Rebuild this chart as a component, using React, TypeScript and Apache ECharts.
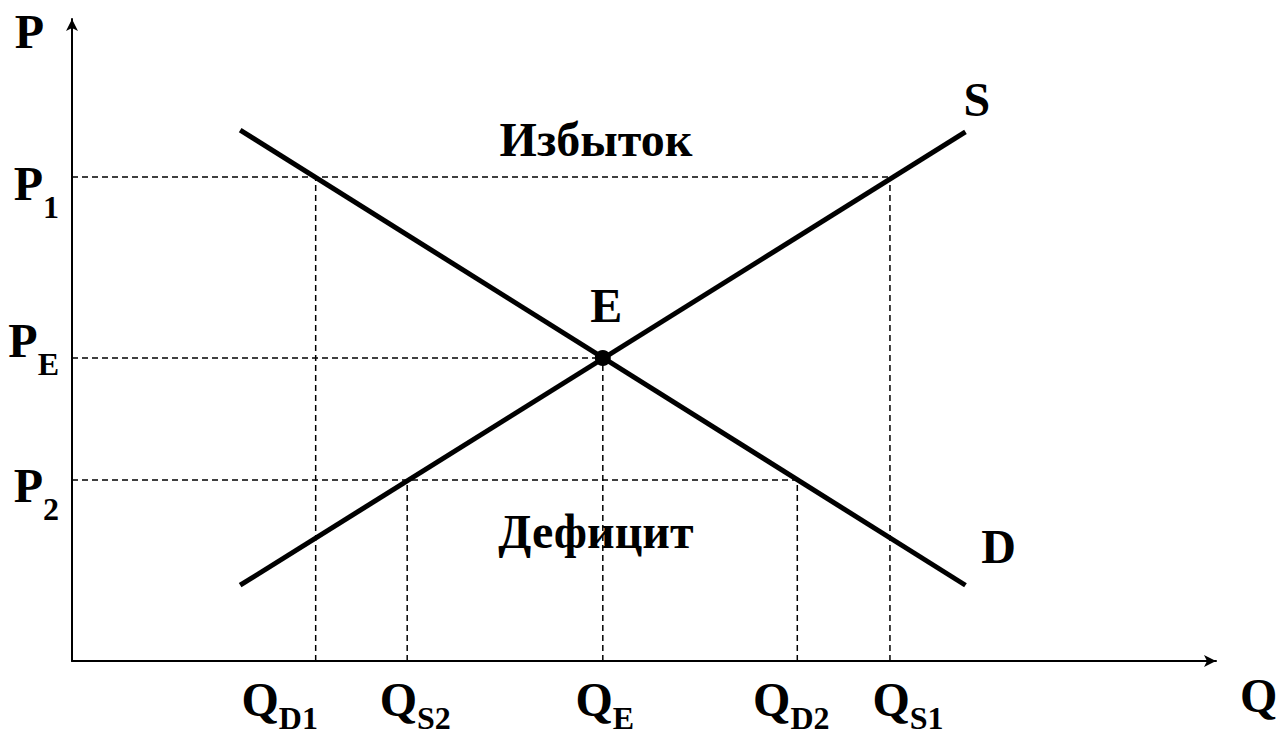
import React, { useEffect, useRef } from "react";
import * as echarts from "echarts";

const FONT = '"Liberation Serif", "Times New Roman", Times, serif';

// Curves (Q, P) in axis units 0..100
const demandLine = [
  [14.7, 82.7],
  [78.1, 11.8],
];
const supplyLine = [
  [14.7, 11.8],
  [78.1, 82.4],
];
const equilibrium = [46.4, 47.2];

// Tick marks on the axes
const qTickNames = ["D1", "S2", "E", "D2", "S1"];
const qTickValues = [21.3, 29.3, 46.4, 63.4, 71.5];
const pTickNames = ["1", "E", "2"];
const pTickValues = [75.4, 47.2, 28.2];

// Guide lines: price index -> quantity indices it drops to
const guidePrice = [0, 1, 2];
const guideQuantities = [
  [0, 4],
  [2],
  [1, 3],
];

// Annotations
const curveNames = ["S", "D", "E"];
const curveLabelAt = [
  [79.1, 87.5],
  [81.0, 17.8],
  [46.7, 55.3],
];
const areaNames = ["Избыток", "Дефицит"];
const areaLabelAt = [
  [45.8, 81.3],
  [45.8, 20.1],
];

export default function App() {
  const ref = useRef<HTMLDivElement>(null);

  useEffect(() => {
    if (!ref.current) return;
    const chart = echarts.init(ref.current, null, { renderer: "svg" });

    const mainStyle = {
      fontSize: 48,
      fontWeight: "bold",
      fontFamily: FONT,
      color: "#000",
      textBorderWidth: 0,
      textBorderColor: "transparent",
      lineHeight: 48,
    };
    const subStyle = {
      fontSize: 32,
      fontWeight: "bold",
      fontFamily: FONT,
      color: "#000",
      textBorderWidth: 0,
      textBorderColor: "transparent",
      lineHeight: 32,
    };
    const rich = {
      m: { ...mainStyle },
      sp: { ...subStyle, padding: [47, 0, 0, 0] },
      sq: { ...subStyle, padding: [37, 0, 0, 0] },
    };

    const qDx = [-36, 8, 2, -6, 18];
    const pDy = [7, -17, 6];

    const hiddenPoint = { color: "rgba(0,0,0,0)", opacity: 1 };

    const guideSeries: any[] = [];
    guidePrice.forEach((pi, gi) => {
      const p = pTickValues[pi];
      const qs = guideQuantities[gi].map((i) => qTickValues[i]);
      const qMax = Math.max(...qs);
      const dashed = {
        type: "line",
        symbol: "none",
        silent: true,
        z: 1,
        lineStyle: { color: "#000", width: 1.5, type: [6, 4] },
      };
      guideSeries.push({ ...dashed, data: [[0, p], [qMax, p]] });
      qs.forEach((q) => {
        guideSeries.push({ ...dashed, data: [[q, 0], [q, p]] });
      });
    });

    const option: any = {
      animation: false,
      backgroundColor: "#fff",
      grid: { left: 72, top: 19, right: 63, bottom: 75, containLabel: false, outerBoundsMode: "none" },
      xAxis: {
        type: "value",
        min: 0,
        max: 100,
        name: "Q",
        nameLocation: "end",
        nameGap: 24,
        nameTextStyle: { ...mainStyle, align: "left", verticalAlign: "top", lineHeight: 68 },
        axisLine: { show: true, onZero: false, symbol: ["none", "arrow"], symbolSize: [9, 12], lineStyle: { color: "#000", width: 2 } },
        axisTick: { show: false },
        axisLabel: { show: false },
        splitLine: { show: false },
      },
      yAxis: {
        type: "value",
        min: 0,
        max: 100,
        name: "P",
        nameLocation: "end",
        nameGap: -12,
        nameTextStyle: { ...mainStyle, align: "right", verticalAlign: "middle", padding: [0, 28, 0, 0] },
        axisLine: { show: true, onZero: false, symbol: ["none", "arrow"], symbolSize: [9, 12], lineStyle: { color: "#000", width: 2 } },
        axisTick: { show: false },
        axisLabel: { show: false },
        splitLine: { show: false },
      },
      series: [
        ...guideSeries,
        {
          name: "D",
          type: "line",
          symbol: "none",
          z: 3,
          data: demandLine,
          lineStyle: { color: "#000", width: 5 },
        },
        {
          name: "S",
          type: "line",
          symbol: "none",
          z: 3,
          data: supplyLine,
          lineStyle: { color: "#000", width: 5 },
        },
        {
          type: "scatter",
          z: 4,
          symbol: "circle",
          symbolSize: 16,
          itemStyle: { color: "#000", opacity: 1 },
          data: [equilibrium],
        },
        {
          type: "scatter",
          z: 5,
          silent: true,
          symbolSize: 1,
          itemStyle: hiddenPoint,
          label: { show: true, position: "inside", ...mainStyle, formatter: (p: any) => p.data.name },
          data: [
            ...curveNames.map((n, i) => ({ name: n, value: curveLabelAt[i] })),
            ...areaNames.map((n, i) => ({ name: n, value: areaLabelAt[i] })),
          ],
        },
        {
          type: "scatter",
          z: 5,
          silent: true,
          symbolSize: 1,
          clip: false,
          itemStyle: hiddenPoint,
          data: qTickValues.map((q, i) => ({
            value: [q, 0],
            label: {
              show: true,
              position: "inside",
              align: "center",
              verticalAlign: "middle",
              color: "#000",
              textBorderWidth: 0,
              offset: [qDx[i], 38],
              formatter: `{m|Q}{sq|${qTickNames[i]}}`,
              rich,
            },
          })),
        },
        {
          type: "scatter",
          z: 5,
          silent: true,
          symbolSize: 1,
          clip: false,
          itemStyle: hiddenPoint,
          data: pTickValues.map((p, i) => ({
            value: [0, p],
            label: {
              show: true,
              position: "inside",
              align: "right",
              verticalAlign: "middle",
              color: "#000",
              textBorderWidth: 0,
              offset: [-13, pDy[i]],
              formatter: `{m|P}{sp|${pTickNames[i]}}`,
              rich,
            },
          })),
        },
      ],
    };

    chart.setOption(option);
    return () => chart.dispose();
  }, []);

  return (
    <div
      ref={ref}
      style={{ position: "fixed", left: 0, top: 0, width: 1279, height: 736, background: "#fff" }}
    />
  );
}
